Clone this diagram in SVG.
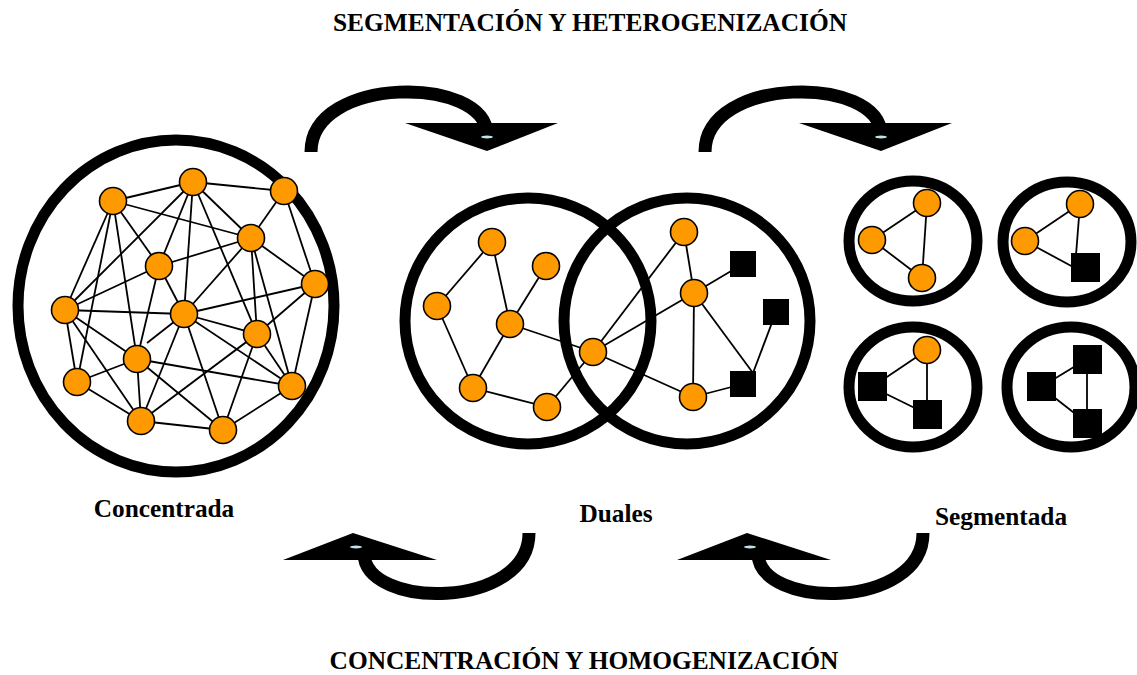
<svg xmlns="http://www.w3.org/2000/svg" width="1137" height="675" viewBox="0 0 1137 675">
  <style>
    .ring { fill: none; stroke: #000; stroke-width: 11; }
    .node { fill: #FF9900; stroke: #000; stroke-width: 1.6; }
    .sq { fill: #000; }
    .edge { stroke: #000; stroke-width: 1.8; fill: none; }
    .arc { fill: none; stroke: #000; stroke-width: 13; }
    .head { fill: #000; }
    .glint { fill: #BFE4E8; }
    .title { font-family: "Liberation Serif", "Times New Roman", serif; font-weight: bold; font-size: 25.4px; text-anchor: middle; fill: #000; }
    .label { font-family: "Liberation Serif", "Times New Roman", serif; font-weight: bold; font-size: 25.3px; text-anchor: middle; fill: #000; }
  </style>
  <defs>
    <circle id="n" r="13.5" class="node"/>
    <rect id="s" x="-13" y="-13" width="26" height="26" class="sq"/>
    <g id="arrowDown">
      <path class="arc" d="M0,0 C0,-77 176,-77 176,-17"/>
      <polygon class="head" points="94,-29 247,-29 176,-1"/>
      <ellipse class="glint" cx="176" cy="-15" rx="6" ry="1.4"/>
    </g>
    <g id="arrowUp">
      <path class="arc" d="M0,0 C0,77 -165,77 -165,20"/>
      <polygon class="head" points="-246,27 -92,27 -176,0"/>
      <ellipse class="glint" cx="-173" cy="14" rx="6" ry="1.4"/>
    </g>
  </defs>

  <rect width="1137" height="675" fill="#fff"/>

  <text class="title" x="590" y="31">SEGMENTACIÓN Y HETEROGENIZACIÓN</text>
  <text class="title" x="584" y="669">CONCENTRACIÓN Y HOMOGENIZACIÓN</text>

  <!-- cycle arrows -->
  <g id="connectors">
    <use href="#arrowDown" x="311" y="152"/>
    <use href="#arrowDown" x="705" y="152"/>
    <use href="#arrowUp" x="529" y="533"/>
    <use href="#arrowUp" x="923" y="533"/>
  </g>

  <!-- concentrated network -->
  <g id="concentrada">
    <ellipse class="ring" cx="176" cy="306" rx="158" ry="166"/>
    <g class="edge">
      <line x1="113" y1="201" x2="193" y2="182"/>
      <line x1="193" y1="182" x2="284" y2="191"/>
      <line x1="113" y1="201" x2="251" y2="238"/>
      <line x1="113" y1="201" x2="65" y2="310"/>
      <line x1="113" y1="201" x2="77" y2="382"/>
      <line x1="113" y1="201" x2="137" y2="359"/>
      <line x1="113" y1="201" x2="159" y2="266"/>
      <line x1="193" y1="182" x2="65" y2="310"/>
      <line x1="193" y1="182" x2="159" y2="266"/>
      <line x1="193" y1="182" x2="184" y2="314"/>
      <line x1="193" y1="182" x2="251" y2="238"/>
      <line x1="193" y1="182" x2="257" y2="334"/>
      <line x1="284" y1="191" x2="251" y2="238"/>
      <line x1="284" y1="191" x2="315" y2="284"/>
      <line x1="159" y1="266" x2="251" y2="238"/>
      <line x1="184" y1="314" x2="251" y2="238"/>
      <line x1="251" y1="238" x2="257" y2="334"/>
      <line x1="251" y1="238" x2="315" y2="284"/>
      <line x1="251" y1="238" x2="292" y2="386"/>
      <line x1="65" y1="310" x2="159" y2="266"/>
      <line x1="159" y1="266" x2="137" y2="359"/>
      <line x1="159" y1="266" x2="184" y2="314"/>
      <line x1="65" y1="310" x2="184" y2="314"/>
      <line x1="65" y1="310" x2="137" y2="359"/>
      <line x1="65" y1="310" x2="77" y2="382"/>
      <line x1="65" y1="310" x2="141" y2="421"/>
      <line x1="184" y1="314" x2="315" y2="284"/>
      <line x1="184" y1="314" x2="257" y2="334"/>
      <line x1="184" y1="314" x2="147" y2="343"/>
      <line x1="184" y1="314" x2="141" y2="421"/>
      <line x1="184" y1="314" x2="223" y2="430"/>
      <line x1="184" y1="314" x2="292" y2="386"/>
      <line x1="257" y1="334" x2="315" y2="284"/>
      <line x1="257" y1="334" x2="292" y2="386"/>
      <line x1="257" y1="334" x2="141" y2="421"/>
      <line x1="257" y1="334" x2="223" y2="430"/>
      <line x1="315" y1="284" x2="292" y2="386"/>
      <line x1="137" y1="359" x2="77" y2="382"/>
      <line x1="137" y1="359" x2="292" y2="386"/>
      <line x1="137" y1="359" x2="141" y2="421"/>
      <line x1="137" y1="359" x2="223" y2="430"/>
      <line x1="77" y1="382" x2="141" y2="421"/>
      <line x1="141" y1="421" x2="223" y2="430"/>
      <line x1="223" y1="430" x2="292" y2="386"/>
    </g>
    <use href="#n" x="113" y="201"/>
    <use href="#n" x="193" y="182"/>
    <use href="#n" x="284" y="191"/>
    <use href="#n" x="251" y="238"/>
    <use href="#n" x="159" y="266"/>
    <use href="#n" x="315" y="284"/>
    <use href="#n" x="65" y="310"/>
    <use href="#n" x="184" y="314"/>
    <use href="#n" x="257" y="334"/>
    <use href="#n" x="137" y="359"/>
    <use href="#n" x="77" y="382"/>
    <use href="#n" x="292" y="386"/>
    <use href="#n" x="141" y="421"/>
    <use href="#n" x="223" y="430"/>
    <text class="label" x="164" y="517">Concentrada</text>
  </g>

  <!-- dual network -->
  <g id="duales">
    <g class="edge">
      <line x1="437" y1="306" x2="492" y2="242"/>
      <line x1="492" y1="242" x2="510" y2="324"/>
      <line x1="546" y1="266" x2="510" y2="324"/>
      <line x1="437" y1="306" x2="473" y2="388"/>
      <line x1="510" y1="324" x2="473" y2="388"/>
      <line x1="473" y1="388" x2="547" y2="407"/>
      <line x1="547" y1="407" x2="593" y2="352"/>
      <line x1="510" y1="324" x2="593" y2="352"/>
      <line x1="593" y1="352" x2="684" y2="232"/>
      <line x1="593" y1="352" x2="694" y2="293"/>
      <line x1="593" y1="352" x2="693" y2="397"/>
      <line x1="684" y1="232" x2="694" y2="293"/>
      <line x1="694" y1="293" x2="693" y2="397"/>
      <line x1="694" y1="293" x2="743" y2="264"/>
      <line x1="694" y1="293" x2="753" y2="373"/>
      <line x1="776" y1="312" x2="753" y2="373"/>
      <line x1="693" y1="397" x2="743" y2="384"/>
    </g>
    <circle class="ring" cx="528" cy="321" r="123"/>
    <circle class="ring" cx="687" cy="321" r="123"/>
    <use href="#n" x="492" y="242"/>
    <use href="#n" x="546" y="266"/>
    <use href="#n" x="437" y="306"/>
    <use href="#n" x="510" y="324"/>
    <use href="#n" x="473" y="388"/>
    <use href="#n" x="547" y="407"/>
    <use href="#n" x="593" y="352"/>
    <use href="#n" x="684" y="232"/>
    <use href="#n" x="694" y="293"/>
    <use href="#n" x="693" y="397"/>
    <use href="#s" x="743" y="264"/>
    <use href="#s" x="776" y="312"/>
    <use href="#s" x="743" y="384"/>
    <text class="label" x="616" y="522">Duales</text>
  </g>

  <!-- segmented networks -->
  <g id="segmentada">
    <g id="seg-1">
      <ellipse class="ring" cx="913" cy="241" rx="64" ry="60"/>
      <g class="edge">
        <line x1="927" y1="203" x2="872" y2="240"/>
        <line x1="927" y1="203" x2="922" y2="278"/>
        <line x1="872" y1="240" x2="922" y2="278"/>
      </g>
      <use href="#n" x="927" y="203"/>
      <use href="#n" x="872" y="240"/>
      <use href="#n" x="922" y="278"/>
    </g>
    <g id="seg-2">
      <ellipse class="ring" cx="1067" cy="242" rx="64" ry="60"/>
      <g class="edge">
        <line x1="1080" y1="204" x2="1025" y2="241"/>
        <line x1="1080" y1="204" x2="1075" y2="268"/>
        <line x1="1025" y1="241" x2="1075" y2="268"/>
      </g>
      <use href="#n" x="1080" y="204"/>
      <use href="#n" x="1025" y="241"/>
      <rect class="sq" x="1071" y="253" width="29" height="29"/>
    </g>
    <g id="seg-3">
      <ellipse class="ring" cx="913" cy="387" rx="64" ry="60"/>
      <g class="edge">
        <line x1="927" y1="350" x2="872" y2="387"/>
        <line x1="927" y1="350" x2="927" y2="414"/>
        <line x1="872" y1="387" x2="927" y2="414"/>
      </g>
      <rect class="sq" x="858" y="372" width="29" height="29"/>
      <rect class="sq" x="913" y="400" width="29" height="29"/>
      <use href="#n" x="927" y="350"/>
    </g>
    <g id="seg-4">
      <ellipse class="ring" cx="1071" cy="387" rx="64" ry="60"/>
      <g class="edge">
        <line x1="1087" y1="359" x2="1041" y2="387"/>
        <line x1="1087" y1="359" x2="1087" y2="423"/>
        <line x1="1041" y1="387" x2="1087" y2="423"/>
      </g>
      <rect class="sq" x="1073" y="345" width="29" height="29"/>
      <rect class="sq" x="1027" y="372" width="29" height="29"/>
      <rect class="sq" x="1073" y="409" width="29" height="29"/>
    </g>
    <text class="label" x="1001" y="525">Segmentada</text>
  </g>
</svg>
